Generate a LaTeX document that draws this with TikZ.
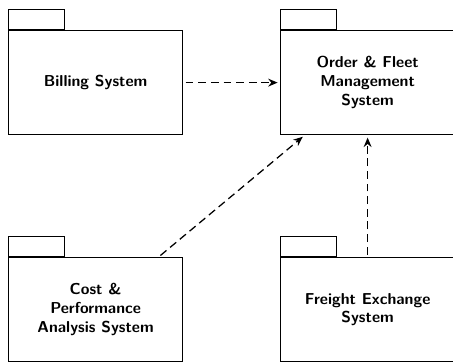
\documentclass[tikz,border=0pt]{standalone}
\usetikzlibrary{arrows.meta}
\begin{document}
\begin{tikzpicture}[x=0.6329pt,y=-0.6329pt,
  pkgbody/.style={draw,line width=0.8pt,rectangle,inner sep=0pt,
    minimum width=110.1pt,minimum height=65.8pt,
    font=\sffamily\bfseries,align=center},
  pkgtab/.style={draw,line width=0.8pt,rectangle,inner sep=0pt,
    minimum width=35.4pt,minimum height=12.66pt},
  dep/.style={line width=0.8pt,dash pattern=on 5pt off 3pt,
    -{Stealth[length=6pt,width=5pt,inset=2pt]},shorten >=1.5pt,shorten <=1.5pt}]
  \useasboundingbox (0,0) rectangle (453,362);
  % package tabs
  \node[pkgtab,anchor=south west] (billtab) at (8,30) {};
  \node[pkgtab,anchor=south west] (ordertab) at (280,30) {};
  \node[pkgtab,anchor=south west] (costtab) at (8,257) {};
  \node[pkgtab,anchor=south west] (freighttab) at (280,257) {};
  % package bodies
  \node[pkgbody,anchor=north west] (bill) at (8,30) {Billing System};
  \node[pkgbody,anchor=north west] (order) at (280,30) {Order \& Fleet\\Management\\System};
  \node[pkgbody,anchor=north west] (cost) at (8,257) {Cost \&\\Performance\\Analysis System};
  \node[pkgbody,anchor=north west] (freight) at (280,257) {Freight Exchange\\System};
  % dependencies
  \draw[dep] (bill) -- (order);
  \draw[dep] (cost) -- (order);
  \draw[dep] (freight) -- (order);
\end{tikzpicture}
\end{document}
